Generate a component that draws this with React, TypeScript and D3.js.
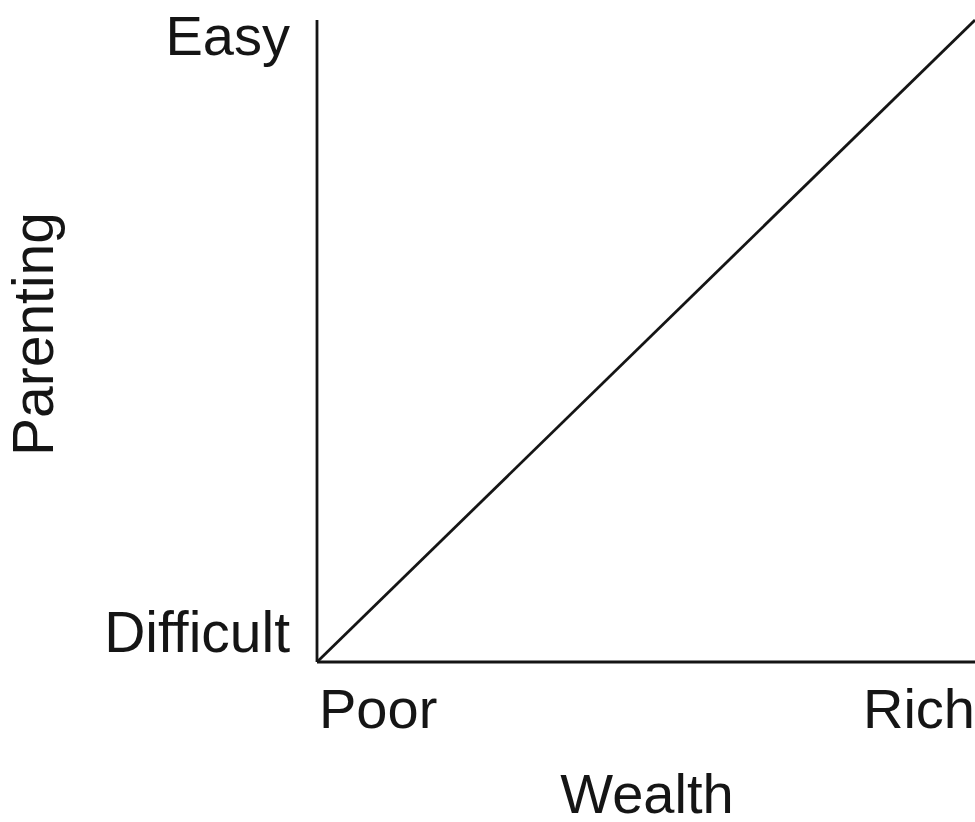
import React from "react";
import * as d3 from "d3";

const xCategories = ["Poor", "Rich"];
const yCategories = ["Difficult", "Easy"];
const lineX = [0, 1];
const lineY = [0, 1];
const xTitle = "Wealth";
const yTitle = "Parenting";

const W = 975;
const H = 822;
const FONT = "'Liberation Sans', Arial, Helvetica, sans-serif";

export default function App() {
  const x = d3.scaleLinear().domain([0, 1]).range([317, 975]);
  const y = d3.scaleLinear().domain([0, 1]).range([662, 20]);
  const pts: [number, number][] = lineX.map((v, i) => [v, lineY[i]]);
  const line = d3
    .line<[number, number]>()
    .x((d) => x(d[0]))
    .y((d) => y(d[1]));
  const fs = 56;
  const color = "#151515";
  const sw = 2.8;
  return (
    <svg
      width={W}
      height={H}
      style={{ position: "absolute", left: 0, top: 0, background: "#fff", overflow: "hidden" }}
      fontFamily={FONT}
    >
      <rect x={0} y={0} width={W} height={H} fill="#fff" />
      {/* axes */}
      <line x1={x(0)} x2={x(0)} y1={y(0)} y2={y(1)} stroke={color} strokeWidth={sw} />
      <line x1={x(0)} x2={x(1)} y1={y(0)} y2={y(0)} stroke={color} strokeWidth={sw} />
      {/* diagonal */}
      <path d={line(pts) || ""} fill="none" stroke={color} strokeWidth={sw} />
      {/* y category labels */}
      <text x={x(0) - 27} y={y(0) - 10} textAnchor="end" fontSize={57} fill={color}>
        {yCategories[0]}
      </text>
      <text x={x(0) - 27} y={55} textAnchor="end" fontSize={fs} fill={color}>
        {yCategories[1]}
      </text>
      {/* x category labels */}
      <text x={x(0) + 2} y={728} textAnchor="start" fontSize={fs} fill={color}>
        {xCategories[0]}
      </text>
      <text x={x(1)} y={728} textAnchor="end" fontSize={fs} fill={color}>
        {xCategories[1]}
      </text>
      {/* titles */}
      <text x={647} y={813} textAnchor="middle" fontSize={fs} fill={color}>
        {xTitle}
      </text>
      <text
        transform={`translate(53, 334) rotate(-90)`}
        textAnchor="middle"
        fontSize={57}
        fill={color}
      >
        {yTitle}
      </text>
    </svg>
  );
}
